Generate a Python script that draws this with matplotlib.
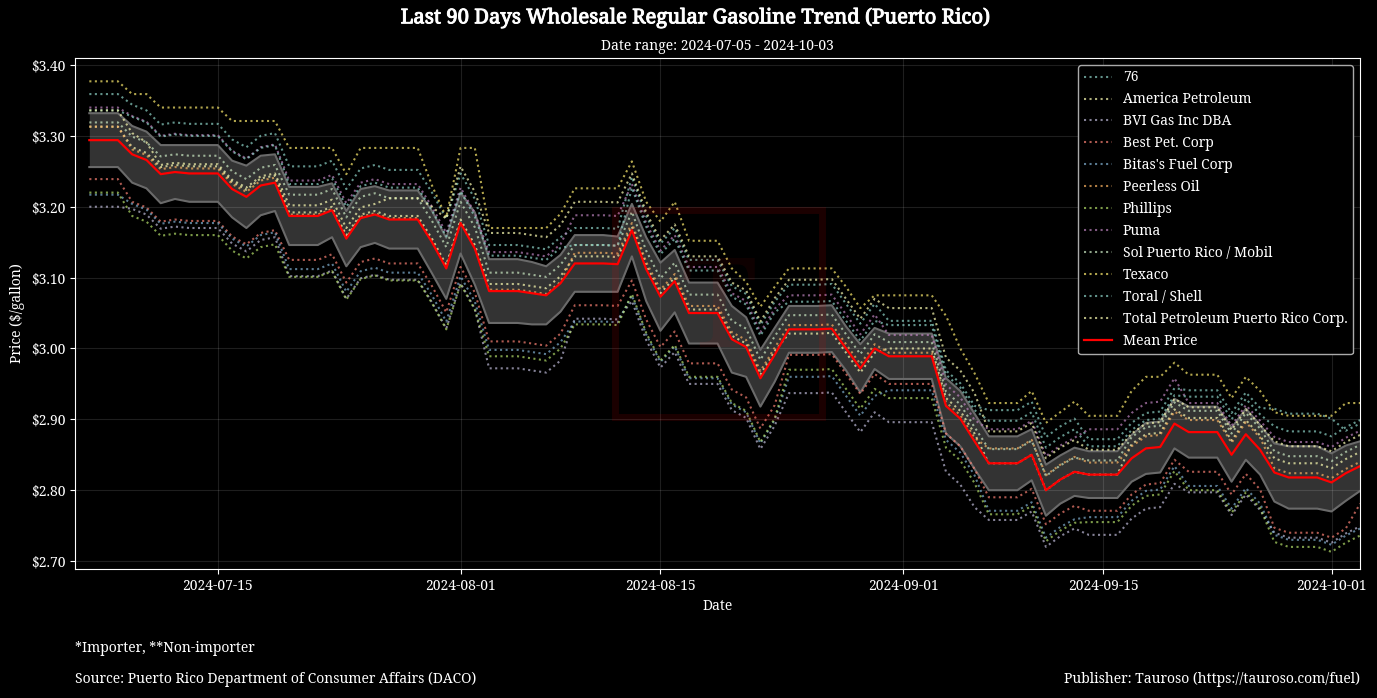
import matplotlib
matplotlib.use("Agg")
import matplotlib.pyplot as plt
import matplotlib.dates as mdates
import matplotlib.patheffects as pe
from matplotlib.patches import Rectangle
from matplotlib.ticker import FuncFormatter
import numpy as np
import pandas as pd

plt.style.use('dark_background')
plt.rcParams['font.family'] = ['Noto Serif', 'DejaVu Serif']

# fechas diarias 2024-07-06 .. 2024-10-03
dates = pd.date_range('2024-07-06', periods=90, freq='D')

mean_price = [
    3.294, 3.294, 3.294, 3.274, 3.266, 3.246, 3.249, 3.247, 3.247, 3.247,
    3.225, 3.214, 3.230, 3.234, 3.187, 3.187, 3.187, 3.195, 3.155, 3.184,
    3.189, 3.182, 3.182, 3.182, 3.150, 3.113, 3.177, 3.141, 3.081, 3.081,
    3.081, 3.078, 3.075, 3.092, 3.120, 3.120, 3.120, 3.119, 3.167, 3.112,
    3.073, 3.095, 3.050, 3.050, 3.050, 3.013, 3.002, 2.958, 2.991, 3.027,
    3.027, 3.027, 3.028, 3.000, 2.972, 3.000, 2.989, 2.989, 2.989, 2.989,
    2.919, 2.901, 2.869, 2.838, 2.838, 2.838, 2.850, 2.800, 2.815, 2.826,
    2.822, 2.822, 2.822, 2.845, 2.859, 2.861, 2.894, 2.882, 2.882, 2.882,
    2.850, 2.879, 2.857, 2.825, 2.818, 2.818, 2.818, 2.811, 2.824, 2.834,
]

std_price = [
    0.038, 0.038, 0.038, 0.040, 0.040, 0.041, 0.038, 0.040, 0.040, 0.040,
    0.040, 0.044, 0.042, 0.040, 0.041, 0.041, 0.041, 0.038, 0.039, 0.041,
    0.040, 0.041, 0.041, 0.041, 0.044, 0.043, 0.043, 0.051, 0.045, 0.045,
    0.045, 0.044, 0.041, 0.040, 0.040, 0.040, 0.040, 0.039, 0.037, 0.045,
    0.048, 0.044, 0.043, 0.043, 0.043, 0.047, 0.042, 0.040, 0.038, 0.033,
    0.033, 0.033, 0.033, 0.031, 0.034, 0.029, 0.032, 0.032, 0.032, 0.032,
    0.039, 0.039, 0.039, 0.038, 0.038, 0.038, 0.036, 0.036, 0.034, 0.034,
    0.033, 0.033, 0.033, 0.033, 0.036, 0.036, 0.035, 0.036, 0.036, 0.036,
    0.038, 0.036, 0.035, 0.041, 0.044, 0.044, 0.044, 0.041, 0.039, 0.035,
]

p_76 = [
    3.359, 3.359, 3.359, 3.344, 3.336, 3.316, 3.319, 3.317, 3.317, 3.317,
    3.295, 3.284, 3.300, 3.304, 3.257, 3.257, 3.257, 3.265, 3.225, 3.254,
    3.259, 3.252, 3.252, 3.252, 3.220, 3.183, 3.247, 3.211, 3.146, 3.146,
    3.146, 3.143, 3.140, 3.157, 3.170, 3.170, 3.170, 3.169, 3.242, 3.187,
    3.148, 3.170, 3.125, 3.125, 3.125, 3.088, 3.077, 3.033, 3.066, 3.090,
    3.090, 3.090, 3.091, 3.063, 3.035, 3.063, 3.039, 3.039, 3.039, 3.039,
    2.969, 2.951, 2.919, 2.913, 2.913, 2.913, 2.925, 2.875, 2.890, 2.901,
    2.872, 2.872, 2.872, 2.895, 2.909, 2.911, 2.944, 2.941, 2.941, 2.941,
    2.909, 2.938, 2.916, 2.915, 2.908, 2.908, 2.908, 2.901, 2.884, 2.894,
]
p_america = [
    3.313, 3.313, 3.313, 3.284, 3.276, 3.256, 3.259, 3.257, 3.257, 3.257,
    3.235, 3.224, 3.240, 3.244, 3.192, 3.192, 3.192, 3.200, 3.160, 3.189,
    3.194, 3.187, 3.187, 3.187, 3.155, 3.118, 3.182, 3.146, 3.091, 3.091,
    3.091, 3.088, 3.085, 3.102, 3.130, 3.130, 3.130, 3.129, 3.172, 3.117,
    3.078, 3.100, 3.055, 3.055, 3.055, 3.018, 3.007, 2.963, 2.996, 3.021,
    3.021, 3.021, 3.022, 2.994, 2.966, 2.994, 3.000, 3.000, 3.000, 3.000,
    2.930, 2.912, 2.880, 2.838, 2.838, 2.838, 2.850, 2.800, 2.815, 2.826,
    2.822, 2.822, 2.822, 2.865, 2.879, 2.881, 2.914, 2.902, 2.902, 2.902,
    2.870, 2.899, 2.877, 2.845, 2.838, 2.838, 2.838, 2.831, 2.844, 2.854,
]
p_bvi = [
    3.200, 3.200, 3.200, 3.197, 3.189, 3.169, 3.172, 3.170, 3.170, 3.170,
    3.148, 3.137, 3.153, 3.157, 3.102, 3.102, 3.102, 3.110, 3.070, 3.099,
    3.104, 3.097, 3.097, 3.097, 3.065, 3.028, 3.092, 3.056, 2.972, 2.972,
    2.972, 2.969, 2.966, 2.983, 3.042, 3.042, 3.042, 3.041, 3.067, 3.012,
    2.973, 2.995, 2.950, 2.950, 2.950, 2.913, 2.902, 2.858, 2.891, 2.937,
    2.937, 2.937, 2.938, 2.910, 2.882, 2.910, 2.896, 2.896, 2.896, 2.896,
    2.826, 2.808, 2.776, 2.758, 2.758, 2.758, 2.770, 2.720, 2.735, 2.746,
    2.737, 2.737, 2.737, 2.760, 2.774, 2.776, 2.809, 2.797, 2.797, 2.797,
    2.765, 2.794, 2.772, 2.740, 2.733, 2.733, 2.733, 2.726, 2.739, 2.749,
]
p_best = [
    3.239, 3.239, 3.239, 3.207, 3.199, 3.179, 3.182, 3.180, 3.180, 3.180,
    3.158, 3.147, 3.163, 3.167, 3.125, 3.125, 3.125, 3.133, 3.093, 3.122,
    3.127, 3.120, 3.120, 3.120, 3.088, 3.051, 3.115, 3.079, 3.010, 3.010,
    3.010, 3.007, 3.004, 3.021, 3.061, 3.061, 3.061, 3.060, 3.096, 3.041,
    3.002, 3.024, 2.979, 2.979, 2.979, 2.942, 2.931, 2.887, 2.920, 2.991,
    2.991, 2.991, 2.992, 2.964, 2.936, 2.964, 2.950, 2.950, 2.950, 2.950,
    2.880, 2.862, 2.830, 2.790, 2.790, 2.790, 2.802, 2.752, 2.767, 2.778,
    2.771, 2.771, 2.771, 2.794, 2.808, 2.810, 2.843, 2.826, 2.826, 2.826,
    2.794, 2.823, 2.801, 2.747, 2.740, 2.740, 2.740, 2.733, 2.746, 2.781,
]
p_bitas = [
    3.217, 3.217, 3.217, 3.204, 3.196, 3.176, 3.179, 3.177, 3.177, 3.177,
    3.155, 3.144, 3.160, 3.164, 3.112, 3.112, 3.112, 3.120, 3.080, 3.109,
    3.114, 3.107, 3.107, 3.107, 3.075, 3.038, 3.102, 3.066, 2.998, 2.998,
    2.998, 2.995, 2.992, 3.009, 3.038, 3.038, 3.038, 3.037, 3.075, 3.020,
    2.981, 3.003, 2.958, 2.958, 2.958, 2.921, 2.910, 2.866, 2.899, 2.960,
    2.960, 2.960, 2.961, 2.933, 2.905, 2.933, 2.941, 2.941, 2.941, 2.941,
    2.871, 2.853, 2.821, 2.771, 2.771, 2.771, 2.783, 2.733, 2.748, 2.759,
    2.762, 2.762, 2.762, 2.785, 2.799, 2.801, 2.834, 2.806, 2.806, 2.806,
    2.774, 2.803, 2.781, 2.737, 2.730, 2.730, 2.730, 2.723, 2.736, 2.746,
]
p_peerless = [
    3.313, 3.313, 3.313, 3.281, 3.273, 3.253, 3.256, 3.254, 3.254, 3.254,
    3.232, 3.221, 3.237, 3.241, 3.189, 3.189, 3.189, 3.197, 3.157, 3.186,
    3.191, 3.184, 3.184, 3.184, 3.152, 3.115, 3.179, 3.143, 3.083, 3.083,
    3.083, 3.080, 3.077, 3.094, 3.135, 3.135, 3.135, 3.134, 3.177, 3.122,
    3.083, 3.105, 3.060, 3.060, 3.060, 3.023, 3.012, 2.968, 3.001, 3.033,
    3.033, 3.033, 3.034, 3.006, 2.978, 3.006, 2.994, 2.994, 2.994, 2.994,
    2.924, 2.906, 2.874, 2.859, 2.859, 2.859, 2.871, 2.821, 2.836, 2.847,
    2.839, 2.839, 2.839, 2.862, 2.876, 2.878, 2.911, 2.899, 2.899, 2.899,
    2.867, 2.896, 2.874, 2.831, 2.824, 2.824, 2.824, 2.817, 2.830, 2.840,
]
p_phillips = [
    3.220, 3.220, 3.220, 3.187, 3.179, 3.159, 3.162, 3.160, 3.160, 3.160,
    3.138, 3.127, 3.143, 3.147, 3.101, 3.101, 3.101, 3.109, 3.069, 3.098,
    3.103, 3.096, 3.096, 3.096, 3.064, 3.027, 3.091, 3.055, 2.989, 2.989,
    2.989, 2.986, 2.983, 3.000, 3.034, 3.034, 3.034, 3.033, 3.077, 3.022,
    2.983, 3.005, 2.960, 2.960, 2.960, 2.923, 2.912, 2.868, 2.901, 2.970,
    2.970, 2.970, 2.971, 2.943, 2.915, 2.943, 2.930, 2.930, 2.930, 2.930,
    2.860, 2.842, 2.810, 2.766, 2.766, 2.766, 2.778, 2.728, 2.743, 2.754,
    2.755, 2.755, 2.755, 2.778, 2.792, 2.794, 2.827, 2.800, 2.800, 2.800,
    2.768, 2.797, 2.775, 2.727, 2.720, 2.720, 2.720, 2.713, 2.726, 2.736,
]
p_puma = [
    3.340, 3.340, 3.340, 3.328, 3.320, 3.300, 3.303, 3.301, 3.301, 3.301,
    3.279, 3.268, 3.284, 3.288, 3.237, 3.237, 3.237, 3.245, 3.205, 3.234,
    3.239, 3.232, 3.232, 3.232, 3.200, 3.163, 3.227, 3.191, 3.136, 3.136,
    3.136, 3.133, 3.130, 3.147, 3.188, 3.188, 3.188, 3.187, 3.232, 3.177,
    3.138, 3.160, 3.115, 3.115, 3.115, 3.078, 3.067, 3.023, 3.056, 3.075,
    3.075, 3.075, 3.076, 3.048, 3.020, 3.048, 3.019, 3.019, 3.019, 3.019,
    2.949, 2.931, 2.899, 2.886, 2.886, 2.886, 2.898, 2.848, 2.863, 2.874,
    2.886, 2.886, 2.886, 2.909, 2.923, 2.925, 2.958, 2.923, 2.923, 2.923,
    2.891, 2.920, 2.898, 2.875, 2.868, 2.868, 2.868, 2.861, 2.874, 2.884,
]
p_sol = [
    3.319, 3.319, 3.319, 3.299, 3.291, 3.271, 3.274, 3.272, 3.272, 3.272,
    3.250, 3.239, 3.255, 3.259, 3.217, 3.217, 3.217, 3.225, 3.185, 3.214,
    3.219, 3.212, 3.212, 3.212, 3.180, 3.143, 3.207, 3.171, 3.107, 3.107,
    3.107, 3.104, 3.101, 3.118, 3.146, 3.146, 3.146, 3.145, 3.193, 3.138,
    3.099, 3.121, 3.076, 3.076, 3.076, 3.039, 3.028, 2.984, 3.017, 3.047,
    3.047, 3.047, 3.048, 3.020, 2.992, 3.020, 3.009, 3.009, 3.009, 3.009,
    2.939, 2.921, 2.889, 2.858, 2.858, 2.858, 2.870, 2.820, 2.835, 2.846,
    2.842, 2.842, 2.842, 2.875, 2.889, 2.891, 2.924, 2.912, 2.912, 2.912,
    2.880, 2.909, 2.887, 2.855, 2.848, 2.848, 2.848, 2.841, 2.854, 2.864,
]
p_texaco = [
    3.377, 3.377, 3.377, 3.359, 3.359, 3.340, 3.340, 3.340, 3.340, 3.340,
    3.321, 3.321, 3.321, 3.321, 3.283, 3.283, 3.283, 3.283, 3.246, 3.283,
    3.283, 3.283, 3.283, 3.283, 3.230, 3.185, 3.283, 3.283, 3.170, 3.170,
    3.170, 3.170, 3.170, 3.190, 3.226, 3.226, 3.226, 3.226, 3.264, 3.207,
    3.179, 3.207, 3.152, 3.152, 3.152, 3.113, 3.094, 3.059, 3.087, 3.113,
    3.113, 3.113, 3.113, 3.087, 3.057, 3.075, 3.075, 3.075, 3.075, 3.075,
    3.046, 3.000, 2.965, 2.923, 2.923, 2.923, 2.940, 2.895, 2.910, 2.925,
    2.905, 2.905, 2.905, 2.940, 2.960, 2.960, 2.980, 2.963, 2.963, 2.963,
    2.930, 2.960, 2.940, 2.910, 2.905, 2.905, 2.905, 2.905, 2.923, 2.923,
]
p_toral = [
    3.336, 3.336, 3.336, 3.327, 3.319, 3.299, 3.302, 3.300, 3.300, 3.300,
    3.278, 3.267, 3.283, 3.287, 3.232, 3.232, 3.232, 3.240, 3.200, 3.229,
    3.234, 3.227, 3.227, 3.227, 3.195, 3.158, 3.222, 3.186, 3.131, 3.131,
    3.131, 3.128, 3.125, 3.142, 3.146, 3.146, 3.146, 3.145, 3.227, 3.172,
    3.133, 3.155, 3.110, 3.110, 3.110, 3.073, 3.062, 3.018, 3.051, 3.066,
    3.066, 3.066, 3.067, 3.039, 3.011, 3.039, 3.033, 3.033, 3.033, 3.033,
    2.963, 2.945, 2.913, 2.898, 2.898, 2.898, 2.910, 2.860, 2.875, 2.886,
    2.862, 2.862, 2.862, 2.885, 2.899, 2.901, 2.934, 2.932, 2.932, 2.932,
    2.900, 2.929, 2.907, 2.890, 2.883, 2.883, 2.883, 2.876, 2.889, 2.899,
]
p_total = [
    3.336, 3.336, 3.336, 3.304, 3.291, 3.259, 3.262, 3.260, 3.260, 3.260,
    3.238, 3.227, 3.243, 3.247, 3.202, 3.202, 3.202, 3.210, 3.170, 3.199,
    3.204, 3.212, 3.212, 3.212, 3.200, 3.183, 3.257, 3.221, 3.163, 3.163,
    3.163, 3.160, 3.157, 3.174, 3.207, 3.207, 3.207, 3.206, 3.247, 3.192,
    3.153, 3.175, 3.130, 3.130, 3.130, 3.093, 3.082, 3.038, 3.071, 3.097,
    3.097, 3.097, 3.098, 3.070, 3.042, 3.070, 3.057, 3.057, 3.057, 3.057,
    2.987, 2.969, 2.937, 2.883, 2.883, 2.883, 2.895, 2.845, 2.860, 2.871,
    2.857, 2.857, 2.857, 2.880, 2.894, 2.896, 2.929, 2.917, 2.917, 2.917,
    2.885, 2.914, 2.892, 2.869, 2.862, 2.862, 2.862, 2.855, 2.868, 2.878,
]

companies = ['76', 'America Petroleum', 'BVI Gas Inc DBA', 'Best Pet. Corp',
             "Bitas's Fuel Corp", 'Peerless Oil', 'Phillips', 'Puma',
             'Sol Puerto Rico / Mobil', 'Texaco', 'Toral / Shell',
             'Total Petroleum Puerto Rico Corp.']
series = [p_76, p_america, p_bvi, p_best, p_bitas, p_peerless, p_phillips,
          p_puma, p_sol, p_texaco, p_toral, p_total]

fig, ax = plt.subplots(figsize=(13.77, 6.98), dpi=100)
fig.subplots_adjust(left=0.0545, right=0.9877, top=0.917, bottom=0.185)

mean = np.array(mean_price)
std = np.array(std_price)

# banda de desviación
ax.fill_between(dates, mean - std, mean + std, color='gray', alpha=0.4, linewidth=0)
ax.plot(dates, mean + std, color='#6a6a6a', linewidth=1.5)
ax.plot(dates, mean - std, color='#6a6a6a', linewidth=1.5)

for name, vals in zip(companies, series):
    ax.plot(dates, vals, linestyle=':', linewidth=1.5, alpha=0.7, label=name)

ax.plot(dates, mean, color='red', linewidth=1.6, label='Mean Price')

ax.set_xlim(pd.Timestamp('2024-07-05'), pd.Timestamp('2024-10-03'))
ax.set_ylim(2.689, 3.41)
ax.yaxis.set_major_formatter(FuncFormatter(lambda v, p: f'${v:.2f}'))
ax.set_yticks(np.arange(2.70, 3.41, 0.10))
ax.xaxis.set_major_locator(mdates.DayLocator(bymonthday=[1, 15]))
ax.xaxis.set_major_formatter(mdates.DateFormatter('%Y-%m-%d'))
ax.tick_params(labelsize=10)
ax.grid(True, color='white', alpha=0.12, linewidth=0.8)

ax.set_xlabel('Date', fontsize=10)
ax.set_ylabel('Price ($/gallon)', fontsize=10)
ax.set_title('Date range: 2024-07-05 - 2024-10-03', fontsize=10, pad=6)
fig.text(0.5055, 0.974, 'Last 90 Days Wholesale Regular Gasoline Trend (Puerto Rico)',
         ha='center', va='center', fontsize=14.6, fontweight='bold',
         path_effects=[pe.withStroke(linewidth=0.7, foreground='white')])

leg = ax.legend(loc='upper right', fontsize=10, facecolor='black', edgecolor='#aaaaaa',
                framealpha=1)

# marca de agua
fig.add_artist(Rectangle((0.4466, 0.4026), 0.1503, 0.2965, transform=fig.transFigure,
                         fill=False, edgecolor='red', alpha=0.11, linewidth=5))
fig.text(0.522, 0.55, 'T', ha='center', va='center', fontsize=90, color='red',
         alpha=0.06, fontweight='bold')

fig.text(0.0545, 0.0716, '*Importer, **Non-importer', fontsize=10, va='center')
fig.text(0.0545, 0.0272, 'Source: Puerto Rico Department of Consumer Affairs (DACO)',
         fontsize=10, va='center')
fig.text(0.9877, 0.0272, 'Publisher: Tauroso (https://tauroso.com/fuel)', fontsize=10,
         ha='right', va='center')

plt.savefig('out.png', dpi=100, facecolor='black')
